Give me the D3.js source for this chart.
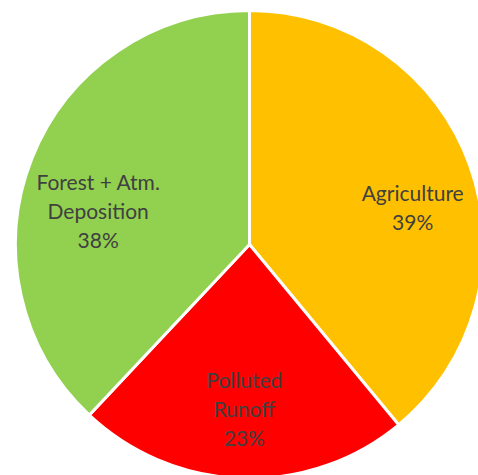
<!DOCTYPE html>
<html>
<head>
<meta charset="utf-8">
<script src="https://cdn.jsdelivr.net/npm/d3@7"></script>
<style>
  html, body { margin: 0; padding: 0; background: #fff; }
  svg { display: block; }
</style>
</head>
<body>
<svg id="chart" width="478" height="475"></svg>
<script>
// Data
const categories = ["Agriculture", "Polluted Runoff", "Forest + Atm. Deposition"];
const values = [39, 23, 38];
const labelLines = [["Agriculture"], ["Polluted", "Runoff"], ["Forest + Atm.", "Deposition"]];
const colors = ["#FFC000", "#FF0000", "#92D050"];

// Layout
const W = 478, H = 475;
const cx = 249.5, cy = 244.5, R = 234;
const labelR = 166;
const lineH = 29;
const nudges = [[7, 27], [0, 7], [3, 36]];

const svg = d3.select("#chart");
const g = svg.append("g").attr("transform", `translate(${cx},${cy})`);

const data = categories.map((c, i) => ({ name: c, value: values[i], i }));
const pie = d3.pie().value(d => d.value).sort(null).startAngle(0).endAngle(2 * Math.PI);
const arcs = pie(data);
const arc = d3.arc().innerRadius(0).outerRadius(R);
const labelArc = d3.arc().innerRadius(labelR).outerRadius(labelR);

g.selectAll("path.slice")
  .data(arcs)
  .join("path")
  .attr("class", "slice")
  .attr("d", arc)
  .attr("fill", d => colors[d.data.i])
  .attr("stroke", "#fff")
  .attr("stroke-width", 3)
  .attr("stroke-linejoin", "miter");

const fmt = d3.format(".0%");
const total = d3.sum(values);

g.selectAll("text.lbl")
  .data(arcs)
  .join("text")
  .attr("class", "lbl")
  .attr("font-family", "Lato, 'Open Sans', sans-serif")
  .attr("font-size", 21)
  .attr("fill", "#404040")
  .attr("text-anchor", "middle")
  .each(function(d) {
    const [x0, y0] = labelArc.centroid(d);
    const nd = nudges[d.data.i];
    const x = x0 + nd[0], y = y0 + nd[1];
    const lines = labelLines[d.data.i].concat([fmt(d.data.value / total)]);
    const n = lines.length;
    const t = d3.select(this);
    lines.forEach((ln, k) => {
      t.append("tspan")
        .attr("x", x)
        .attr("y", y + (k - (n - 1) / 2) * lineH)
        .text(ln);
    });
  });
</script>
</body>
</html>
